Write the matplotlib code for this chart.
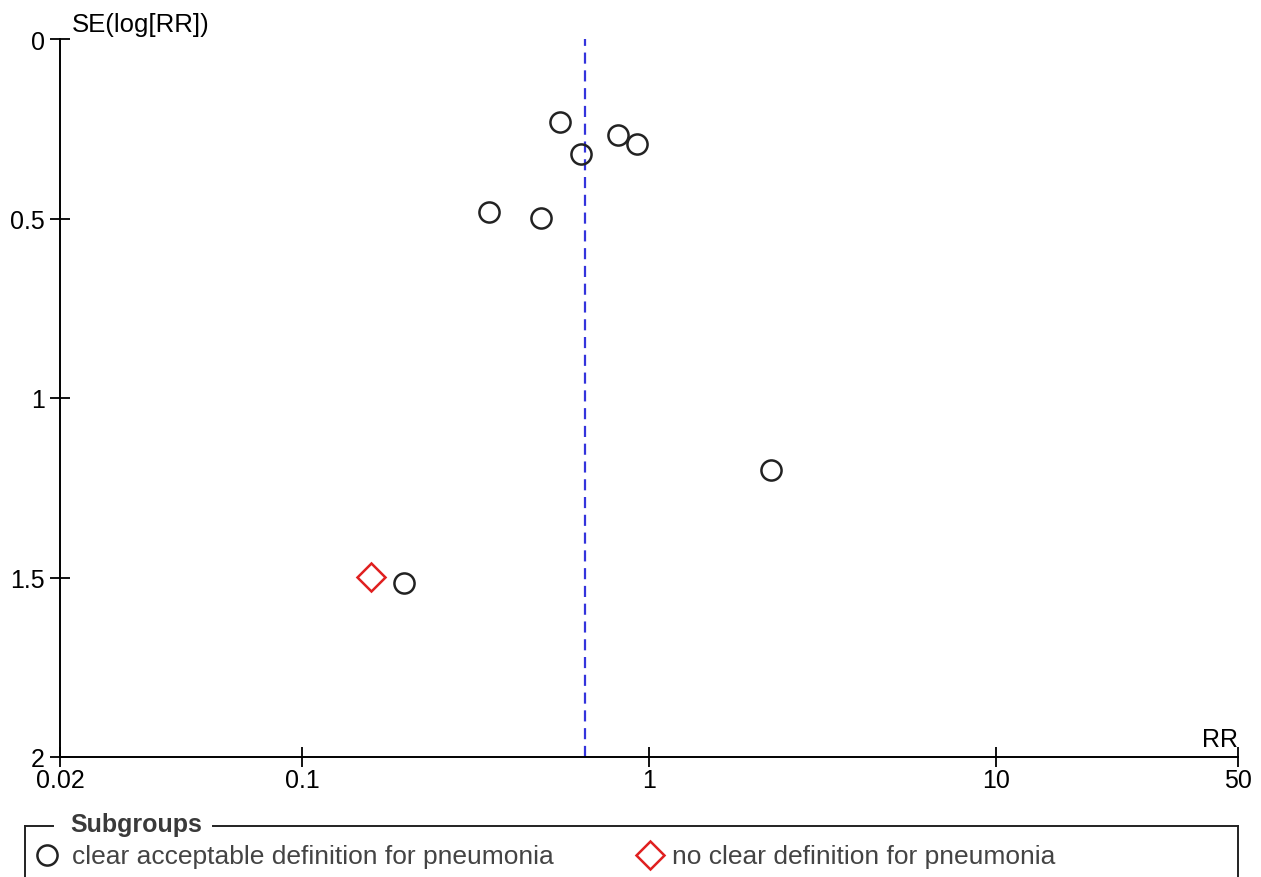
import matplotlib
matplotlib.use('Agg')
import matplotlib.pyplot as plt
from matplotlib.lines import Line2D

# funnel plot data
rr_clear = [0.553, 0.813, 0.923, 0.637, 0.345, 0.488, 2.25, 0.196]
se_clear = [0.231, 0.267, 0.292, 0.320, 0.482, 0.499, 1.20, 1.515]
rr_noclear = [0.158]
se_noclear = [1.499]
pooled_rr = 0.653

xticks = [0.02, 0.1, 1, 10, 50]
xtick_labels = ['0.02', '0.1', '1', '10', '50']
yticks = [0, 0.5, 1, 1.5, 2]
ytick_labels = ['0', '0.5', '1', '1.5', '2']

group_labels = ['clear acceptable definition for pneumonia', 'no clear definition for pneumonia']

plt.rcParams['font.family'] = ['Liberation Sans', 'DejaVu Sans']

W, H = 1261, 878
fig = plt.figure(figsize=(W / 100, H / 100), dpi=100)
ax = fig.add_axes([60 / W, (H - 758) / H, 1178 / W, 718 / H])

ax.set_xscale('log')
ax.set_xlim(0.02, 50)
ax.set_ylim(2, 0)

ax.axvline(pooled_rr, color='#3434dc', lw=1.6, ls=(0, (5, 3)), zorder=1)
ax.plot(rr_clear, se_clear, 'o', ms=14.5, mfc='none', mec='#222222', mew=1.8, zorder=3)
ax.plot(rr_noclear, se_noclear, 'D', ms=14, mfc='none', mec='#e02020', mew=1.8, zorder=3)

for s in ['top', 'right']:
    ax.spines[s].set_visible(False)
for s in ['left', 'bottom']:
    ax.spines[s].set_linewidth(1.4)

ax.set_xticks(xticks)
ax.set_xticklabels(xtick_labels)
ax.minorticks_off()
ax.set_yticks(yticks)
ax.set_yticklabels(ytick_labels)
ax.tick_params(axis='both', direction='inout', length=14, width=1.3, labelsize=18, colors='black')
ax.tick_params(axis='x', pad=1)
ax.tick_params(axis='y', pad=4)

ax.annotate('SE(log[RR])', xy=(0, 1), xycoords='axes fraction', xytext=(12, 3),
            textcoords='offset pixels', ha='left', va='bottom', fontsize=18.5)
ax.annotate('RR', xy=(1, 0), xycoords='axes fraction', xytext=(0, 6),
            textcoords='offset pixels', ha='right', va='bottom', fontsize=18)


# legend box, drawn by hand in figure pixels
def px(x, y):
    return x / W, 1 - y / H


def fig_line(xs, ys, **kw):
    fx = [x / W for x in xs]
    fy = [1 - y / H for y in ys]
    fig.add_artist(Line2D(fx, fy, transform=fig.transFigure, **kw))


box_kw = dict(color='#222222', lw=1.4)
fig_line([25, 53], [827, 827], **box_kw)
fig_line([213, 1238], [827, 827], **box_kw)
fig_line([25, 25], [827, 880], **box_kw)
fig_line([1238, 1238], [827, 880], **box_kw)

fig.text(*px(70, 825), 'Subgroups', fontsize=18, fontweight='bold', color='#3a3a3a',
         ha='left', va='center')

fig_line([47], [856], marker='o', ms=14.5, mfc='none', mec='#222222', mew=1.8, ls='none')
fig.text(*px(72, 857), group_labels[0], fontsize=19, color='#444444', ha='left', va='center')
fig_line([650], [856], marker='D', ms=14, mfc='none', mec='#e02020', mew=1.8, ls='none')
fig.text(*px(672, 857), group_labels[1], fontsize=19, color='#444444', ha='left', va='center')

fig.savefig('out.png', dpi=100)
